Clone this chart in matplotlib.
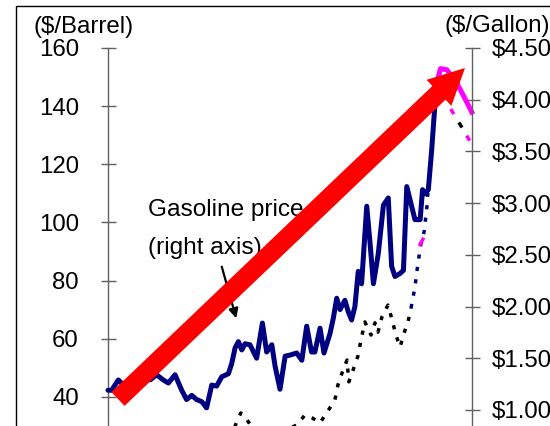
import matplotlib
matplotlib.use("Agg")
import matplotlib.pyplot as plt
from matplotlib.patches import Polygon, Rectangle, FancyArrowPatch
from matplotlib.transforms import IdentityTransform
import numpy as np

plt.rcParams['font.family'] = ['Liberation Sans', 'DejaVu Sans']
plt.rcParams['lines.scale_dashes'] = False

# ---------------- data (x = months from start of chart) ----------------
gas_months = [0, 1.2, 3.4, 5.1, 7.3, 9.5, 10.6, 12.2, 13.9, 16.0, 18.2, 19.9, 22.1, 24.3, 25.9,
              27.6, 29.2, 30.9, 32.5, 34.2, 35.8, 37.5, 39.7, 40.8, 41.9, 43.0, 44.1, 45.2, 46.8,
              49.0, 50.9, 52.3, 54.0, 55.1, 56.7, 58.4, 60.0, 62.2, 63.9, 65.5, 67.1, 68.2, 69.9,
              71.2, 73.2, 74.3, 75.4, 76.5, 78.1, 79.2, 80.3, 81.4, 82.5, 83.6, 85.3, 86.4, 87.5,
              89.1, 90.8, 92.4, 93.5, 94.6, 96.3, 97.4, 98.5, 100.1, 101.2, 102.9, 103.7, 104.5,
              105.6, 106.7, 107.8, 108.3]
gas_price = [1.19, 1.19, 1.29, 1.24, 1.26, 1.19, 1.37, 1.32, 1.29, 1.34, 1.29, 1.26, 1.34, 1.19,
             1.10, 1.14, 1.10, 1.08, 1.02, 1.24, 1.23, 1.32, 1.35, 1.45, 1.60, 1.66, 1.58, 1.64,
             1.63, 1.50, 1.84, 1.56, 1.63, 1.42, 1.20, 1.52, 1.53, 1.55, 1.48, 1.81, 1.56, 1.56,
             1.79, 1.55, 1.74, 1.89, 2.08, 1.97, 2.06, 1.95, 1.87, 2.00, 2.34, 2.22, 2.97, 2.61,
             2.22, 2.51, 2.98, 3.05, 2.39, 2.29, 2.32, 2.35, 3.16, 2.97, 2.84, 2.84, 3.13, 3.09,
             3.13, 3.51, 3.96, 4.15]

gas_recent_months = [108.3, 109.6, 111.7, 115.0, 117.7, 119.9]
gas_recent_price = [4.15, 4.30, 4.29, 4.16, 4.01, 3.88]

gas_fcst_months = [113.0, 116.5, 119.9]
gas_fcst_price = [3.91, 3.74, 3.57]

gas_dot_months = [102.9, 103.8]
gas_dot_price = [2.60, 2.65]

oil_months = [40.2, 42.5, 43.8, 45.5, 47.5, 50.1, 55.1, 60.0, 62.3, 64.9, 67.3, 69.9, 72.5, 74.8,
              75.8, 77.5, 78.8, 79.4, 80.8, 82.4, 83.4, 84.7, 86.7, 88.0, 89.0, 90.3, 92.3, 93.6,
              94.9, 96.3, 97.6, 98.9, 99.9]
oil_price = [25.2, 31.7, 34.5, 32.8, 29.3, 26.9, 28.0, 29.3, 30.4, 33.8, 32.8, 31.1, 35.2, 39.0,
             44.1, 49.3, 52.7, 45.2, 49.3, 54.1, 59.6, 65.8, 61.3, 65.5, 62.3, 67.5, 71.6, 66.8,
             61.3, 57.2, 62.0, 65.8, 70.6]

oil_recent_months = [99.9, 101.2, 101.9, 102.5, 103.2, 104.2, 105.2, 105.5, 106.5, 107.1, 107.8]
oil_recent_price = [70.6, 77.8, 83.7, 88.1, 92.9, 96.7, 106.0, 111.2, 121.5, 131.8, 142.1]

left_ticks = [40, 60, 80, 100, 120, 140, 160]
right_ticks = [1.0, 1.5, 2.0, 2.5, 3.0, 3.5, 4.0, 4.5]

W, H = 550, 426
fig = plt.figure(figsize=(W / 100, H / 100), dpi=100)
fig.patch.set_facecolor('white')

# axes box in pixels (top-left origin): x 108..472, y 48..513 (plot continues below the crop)
x0, x1, ytop, ybot = 108, 472, 48, 513.3
ax = fig.add_axes([x0 / W, 1 - ybot / H, (x1 - x0) / W, (ybot - ytop) / H])
ax2 = ax.twinx()

GRAY = '#606060'
for a in (ax, ax2):
    for s in ('top', 'bottom'):
        a.spines[s].set_visible(False)
    a.set_xlim(0, 120)
    a.set_xticks([])
    a.patch.set_visible(False)
ax.spines['right'].set_visible(False)
ax2.spines['left'].set_visible(False)
ax.spines['left'].set_color(GRAY)
ax2.spines['right'].set_color(GRAY)
ax.spines['left'].set_linewidth(1.0)
ax2.spines['right'].set_linewidth(1.0)

ax.set_ylim(0, 160)
ax2.set_ylim(0, 4.5)
ax.set_yticks(left_ticks)
ax.set_yticklabels([str(t) for t in left_ticks])
ax2.set_yticks(right_ticks)
ax2.set_yticklabels(['${:.2f}'.format(t) for t in right_ticks])
ax.tick_params(axis='y', direction='inout', length=10.8, width=1, color=GRAY,
               labelsize=17.3, pad=15.5, labelcolor='black')
ax2.tick_params(axis='y', direction='inout', length=10.8, width=1, color=GRAY,
                labelsize=17.3, pad=8.6, labelcolor='black')

# oil price (left axis), dotted
ax.plot(oil_months, oil_price, color='black', lw=2.5, linestyle=(0, (3, 6)),
        dash_capstyle='butt', clip_on=False)
ax.plot(oil_recent_months, oil_recent_price, color='#000080', lw=2.5, linestyle=(0, (3, 6)),
        dash_capstyle='butt', clip_on=False)

# gasoline (right axis)
ax2.plot(gas_dot_months, gas_dot_price, color='#FF00FF', lw=2.5, clip_on=False)
ax2.plot(gas_months, gas_price, color='#000080', lw=3.6, solid_joinstyle='round',
         solid_capstyle='round', clip_on=False)
ax2.plot(gas_recent_months, gas_recent_price, color='#FF00FF', lw=3.6, solid_joinstyle='round',
         clip_on=False)
ax2.plot(gas_fcst_months, gas_fcst_price, color='#FF00FF', lw=2.5, linestyle=(0, (4.3, 18)),
         dash_capstyle='butt', clip_on=False)
ax2.plot(gas_fcst_months, gas_fcst_price, color='black', lw=2.5, linestyle=(11, (4.3, 18)),
         dash_capstyle='butt', clip_on=False)


def px(x, y):
    return (x, H - y)


# figure border (top and left visible)
fig.add_artist(Rectangle(px(16, 700), 800, 694, transform=IdentityTransform(),
                         fill=False, edgecolor='black', lw=1.0, zorder=10))

# axis unit labels
fig.text(83.5 / W, 1 - 27 / H, '($/Barrel)', ha='center', va='center', fontsize=17.3)
fig.text(445 / W, 1 - 26 / H, '($/Gallon)', ha='left', va='center', fontsize=17.3)

# annotation text
fig.text(148 / W, 1 - 210 / H, 'Gasoline price', ha='left', va='center', fontsize=17.6, zorder=2)
fig.text(148 / W, 1 - 248 / H, '(right axis)', ha='left', va='center', fontsize=17.6, zorder=2)
fig.add_artist(FancyArrowPatch(px(221, 264), px(237, 321), transform=IdentityTransform(),
                               arrowstyle='-|>', mutation_scale=14,
                               color='black', lw=1.6, zorder=3))

# big red trend arrow
T = np.array([118.0, 399.0])
P = np.array([465.0, 68.0])
u = (P - T) / np.linalg.norm(P - T)
n = np.array([-u[1], u[0]])
L, Hh, w = 36.0, 18.0, 9.5
B = P - L * u
pts = [T + w * n, B + w * n, B + Hh * n, P, B - Hh * n, B - w * n, T - w * n]
fig.add_artist(Polygon([px(*p) for p in pts], closed=True, transform=IdentityTransform(),
                       facecolor='#FF0000', edgecolor='none', zorder=20))

fig.savefig('out.png', dpi=100)
